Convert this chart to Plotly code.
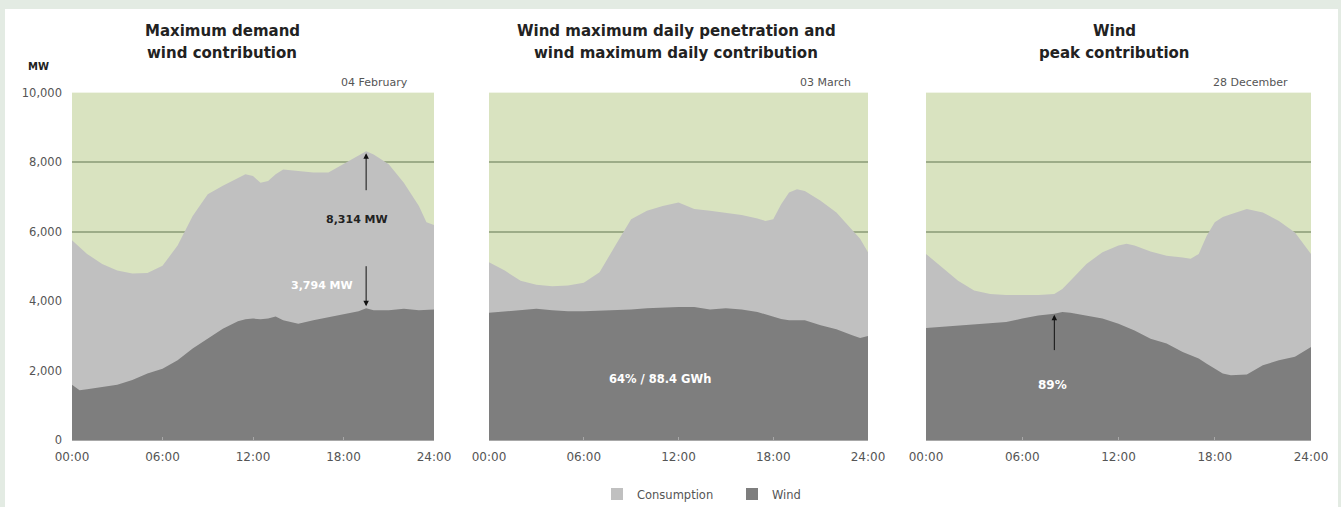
import plotly.graph_objects as go

# ---------------- data ----------------
tick_hours = [0, 6, 12, 18, 24]
tick_text = ["00:00", "06:00", "12:00", "18:00", "24:00"]
y_ticks = [0, 2000, 4000, 6000, 8000, 10000]
y_tick_text = ["0", "2,000", "4,000", "6,000", "8,000", "10,000"]

titles = [("Maximum demand", "wind contribution"),
          ("Wind maximum daily penetration and", "wind maximum daily contribution"),
          ("Wind", "peak contribution")]
dates = ["04 February", "03 March", "28 December"]
series_names = ["Consumption", "Wind"]

# Panel 1 - 04 February
p1_hours = [0, 0.5, 1, 2, 3, 4, 5, 6, 7, 8, 9, 10, 11, 11.5, 12, 12.5, 13, 13.5, 14, 15, 16, 17, 18, 19, 19.5, 20, 21, 22, 23, 23.5, 24]
p1_consumption = [5750, 5550, 5360, 5070, 4880, 4800, 4810, 5020, 5600, 6450, 7080, 7320, 7530, 7650, 7600, 7410, 7460, 7650, 7790, 7750, 7700, 7700, 7940, 8180, 8314, 8220, 7940, 7410, 6740, 6270, 6190]
p1_wind = [1600, 1440, 1470, 1540, 1600, 1730, 1920, 2060, 2300, 2640, 2920, 3210, 3420, 3480, 3500, 3480, 3500, 3560, 3450, 3350, 3450, 3540, 3640, 3710, 3794, 3740, 3740, 3780, 3740, 3760, 3760]

# Panel 2 - 03 March
p2_hours = [0, 1, 2, 3, 4, 5, 6, 7, 8, 9, 10, 11, 12, 13, 14, 15, 16, 17, 17.5, 18, 18.5, 19, 19.5, 20, 21, 22, 23, 23.5, 24]
p2_consumption = [5120, 4880, 4590, 4470, 4430, 4450, 4530, 4830, 5600, 6360, 6600, 6740, 6840, 6650, 6600, 6550, 6480, 6380, 6310, 6360, 6790, 7130, 7220, 7170, 6890, 6550, 6070, 5800, 5410]
p2_wind = [3670, 3710, 3740, 3780, 3740, 3710, 3710, 3720, 3740, 3760, 3800, 3820, 3830, 3830, 3760, 3800, 3760, 3690, 3620, 3540, 3490, 3450, 3440, 3450, 3310, 3190, 3020, 2940, 3000]

# Panel 3 - 28 December
p3_hours = [0, 1, 2, 3, 4, 5, 6, 7, 8, 8.5, 9, 10, 11, 12, 12.5, 13, 14, 15, 16, 16.5, 17, 17.5, 18, 18.5, 19, 20, 21, 22, 23, 24]
p3_consumption = [5360, 4980, 4590, 4310, 4210, 4180, 4170, 4180, 4210, 4350, 4590, 5070, 5410, 5600, 5650, 5600, 5430, 5310, 5260, 5220, 5360, 5880, 6270, 6420, 6500, 6650, 6550, 6310, 5980, 5360]
p3_wind = [3230, 3260, 3300, 3320, 3350, 3400, 3500, 3590, 3640, 3690, 3670, 3590, 3500, 3350, 3260, 3160, 2920, 2780, 2540, 2440, 2350, 2200, 2060, 1920, 1870, 1890, 2160, 2300, 2400, 2680]

panels = [(p1_hours, p1_consumption, p1_wind),
          (p2_hours, p2_consumption, p2_wind),
          (p3_hours, p3_consumption, p3_wind)]

# ---------------- style ----------------
W, H = 1341, 509
CONS = "#c0c0c0"
WIND = "#7e7e7e"
GREEN = "#d9e3c0"
GRID = "#9dac88"
BORDER = "#e3ebe3"
FONT = "DejaVu Sans"

x_dom_px = [(72, 434), (489, 868), (926, 1311)]
y_dom = [(H - 442) / H, (H - 93) / H]

fig = go.Figure()

for i, (hrs, cons, wind) in enumerate(panels):
    xa = "x" if i == 0 else f"x{i+1}"
    ya = "y" if i == 0 else f"y{i+1}"
    fig.add_trace(go.Scatter(x=hrs, y=cons, mode="lines", fill="tozeroy",
                             line=dict(width=0, color=CONS), fillcolor=CONS,
                             name=series_names[0], showlegend=False,
                             xaxis=xa, yaxis=ya, hoverinfo="skip"))
    fig.add_trace(go.Scatter(x=hrs, y=wind, mode="lines", fill="tozeroy",
                             line=dict(width=0, color=WIND), fillcolor=WIND,
                             name=series_names[1], showlegend=False,
                             xaxis=xa, yaxis=ya, hoverinfo="skip"))

# legend entries with square swatches
for name, col in zip(series_names, [CONS, WIND]):
    fig.add_trace(go.Bar(x=[None], y=[None], name=name, marker=dict(color=col, line=dict(width=0)),
                         showlegend=True, hoverinfo="skip"))

layout = dict(template="none", width=W, height=H, margin=dict(l=0, r=0, t=0, b=0, pad=0),
              paper_bgcolor="white", plot_bgcolor=GREEN,
              font=dict(family=FONT, color="#555555"),
              showlegend=True,
              legend=dict(orientation="h", x=597 / W, xanchor="left",
                          y=(H - 496) / H, yanchor="middle",
                          font=dict(size=11.5, color="#555555", family=FONT),
                          bgcolor="rgba(0,0,0,0)", itemwidth=30, traceorder="normal",
                          entrywidth=90, entrywidthmode="pixels"))

for i, (x0, x1) in enumerate(x_dom_px):
    xk = "xaxis" if i == 0 else f"xaxis{i+1}"
    yk = "yaxis" if i == 0 else f"yaxis{i+1}"
    ya = "y" if i == 0 else f"y{i+1}"
    xa = "x" if i == 0 else f"x{i+1}"
    layout[xk] = dict(domain=[x0 / W, x1 / W], range=[0, 24], anchor=ya,
                      tickvals=tick_hours, ticktext=tick_text,
                      showgrid=False, zeroline=False, showline=True,
                      linecolor="#a8a8a8", linewidth=1,
                      ticks="inside", ticklen=3, tickcolor="#a8a8a8",
                      tickfont=dict(size=12, color="#555555", family=FONT),
                      ticklabelstandoff=5, automargin=False, fixedrange=True)
    layout[yk] = dict(domain=list(y_dom), range=[0, 10000], anchor=xa,
                      tickvals=y_ticks, ticktext=y_tick_text,
                      showgrid=True, gridcolor=GRID, gridwidth=1.5,
                      zeroline=False, showline=False, ticks="",
                      showticklabels=(i == 0),
                      tickfont=dict(size=11.5, color="#555555", family=FONT),
                      ticklabelstandoff=9, automargin=False, fixedrange=True)

fig.update_layout(**layout)

annotations = []
title_cx = [222, 676, 1114]
for i, (l1, l2) in enumerate(titles):
    for txt, yp in ((l1, 31), (l2, 53)):
        annotations.append(dict(xref="paper", yref="paper", x=title_cx[i] / W, y=(H - yp) / H,
                                text=f"<b>{txt}</b>", showarrow=False, xanchor="center",
                                yanchor="middle", font=dict(size=15, color="#222222", family=FONT)))
date_right = [410, 853, 1290]
for i, d in enumerate(dates):
    annotations.append(dict(xref="paper", yref="paper", x=date_right[i] / W, y=(H - 83) / H,
                            text=d, showarrow=False, xanchor="right", yanchor="middle",
                            font=dict(size=11, color="#555555", family=FONT)))
annotations.append(dict(xref="paper", yref="paper", x=38 / W, y=(H - 67) / H,
                        text="<b>MW</b>", showarrow=False, xanchor="center", yanchor="middle",
                        font=dict(size=10, color="#222222", family=FONT)))

# Panel 1 arrows/labels: peak consumption and wind at that moment
k1 = p1_consumption.index(max(p1_consumption))
t_peak = p1_hours[k1]
annotations.append(dict(xref="x", yref="y", axref="x", ayref="y",
                        x=t_peak, y=p1_consumption[k1] - 60, ax=t_peak, ay=7150,
                        text="", showarrow=True, arrowhead=2, arrowsize=1.1, arrowwidth=1,
                        arrowcolor="#111111"))
annotations.append(dict(xref="x", yref="y", axref="x", ayref="y",
                        x=t_peak, y=p1_wind[k1] + 60, ax=t_peak, ay=5050,
                        text="", showarrow=True, arrowhead=2, arrowsize=1.1, arrowwidth=1,
                        arrowcolor="#111111"))
annotations.append(dict(xref="x", yref="y", x=18.9, y=6360, text="<b>8,314 MW</b>",
                        showarrow=False, font=dict(size=11, color="#222222", family=FONT)))
annotations.append(dict(xref="x", yref="y", x=16.6, y=4440, text="<b>3,794 MW</b>",
                        showarrow=False, font=dict(size=11, color="white", family=FONT)))
# Panel 2 label
annotations.append(dict(xref="x2", yref="y2", x=10.8, y=1775, text="<b>64% / 88.4 GWh</b>",
                        showarrow=False, font=dict(size=11.5, color="white", family=FONT)))
# Panel 3 arrow/label: max wind penetration
t3 = 8
annotations.append(dict(xref="x3", yref="y3", axref="x3", ayref="y3",
                        x=t3, y=p3_wind[p3_hours.index(t3)] - 30, ax=t3, ay=2550,
                        text="", showarrow=True, arrowhead=2, arrowsize=1.1, arrowwidth=1,
                        arrowcolor="#111111"))
annotations.append(dict(xref="x3", yref="y3", x=7.9, y=1600, text="<b>89%</b>",
                        showarrow=False, font=dict(size=12, color="white", family=FONT)))

fig.update_layout(annotations=annotations)

# outer light-green frame around the white page
shapes = [
    dict(type="rect", xref="paper", yref="paper", x0=0, x1=5 / W, y0=0, y1=1,
         fillcolor=BORDER, line=dict(width=0), layer="below"),
    dict(type="rect", xref="paper", yref="paper", x0=1338 / W, x1=1, y0=0, y1=1,
         fillcolor=BORDER, line=dict(width=0), layer="below"),
    dict(type="rect", xref="paper", yref="paper", x0=0, x1=1, y0=(H - 9) / H, y1=1,
         fillcolor=BORDER, line=dict(width=0), layer="below"),
]
fig.update_layout(shapes=shapes)

fig.write_html("out.html",
               config={"displayModeBar": False},
               post_script="document.body.style.margin='0';document.body.style.padding='0';"
                           "document.body.style.overflow='hidden';")
